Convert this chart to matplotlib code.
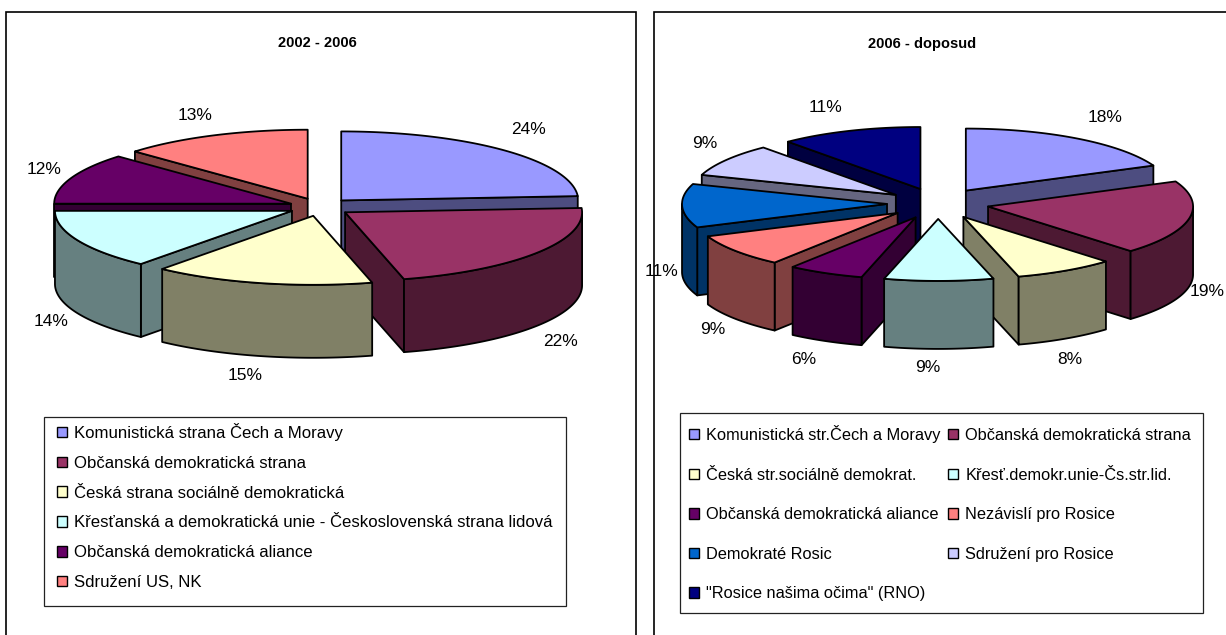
import numpy as np
import matplotlib
matplotlib.use("Agg")
import matplotlib.pyplot as plt
from matplotlib.patches import Polygon, Patch, Rectangle

plt.rcParams["font.family"] = ["Liberation Sans", "DejaVu Sans"]

W, H = 1226, 635

# 2002 - 2006
left_title = "2002 - 2006"
left_parties = [
    "Komunistická strana Čech a Moravy",
    "Občanská demokratická strana",
    "Česká strana sociálně demokratická",
    "Křesťanská a demokratická unie - Československá strana lidová",
    "Občanská demokratická aliance",
    "Sdružení US, NK",
]
left_values = [24, 22, 15, 14, 12, 13]
left_colors = ["#9999FF", "#993366", "#FFFFCC", "#CCFFFF", "#660066", "#FF8080"]
left_walls = ["#4D4D80", "#4D1933", "#808066", "#668080", "#330033", "#804040"]
left_label_xy = [(528, 130), (560, 342), (245, 376), (51, 322), (44, 169), (195, 115)]

# 2006 - doposud
right_title = "2006 - doposud"
right_parties = [
    "Komunistická str.Čech a Moravy",
    "Občanská demokratická strana",
    "Česká str.sociálně demokrat.",
    "Křesť.demokr.unie-Čs.str.lid.",
    "Občanská demokratická aliance",
    "Nezávislí pro Rosice",
    "Demokraté Rosic",
    "Sdružení pro Rosice",
    '"Rosice našima očima" (RNO)',
]
right_values = [18.4, 19.4, 7.9, 8.6, 6.0, 8.6, 11.4, 8.6, 11.2]
right_colors = ["#9999FF", "#993366", "#FFFFCC", "#CCFFFF", "#660066", "#FF8080",
                "#0066CC", "#CCCCFF", "#000080"]
right_walls = ["#4D4D80", "#4D1933", "#808066", "#668080", "#330033", "#804040",
               "#003366", "#666680", "#000040"]
right_label_xy = [(1105, 118), (1207, 291), (1070, 359), (928, 368), (804, 360),
                  (713, 330), (661, 272), (705, 144), (826, 107)]

fig = plt.figure(figsize=(W / 100, H / 100), dpi=100)
ax = fig.add_axes([0, 0, 1, 1])
ax.set_xlim(0, W)
ax.set_ylim(H, 0)
ax.axis("off")


def draw_pie(values, colors, walls, cx, cy, rx, ry, depth, explode):
    total = sum(values)
    edges = np.concatenate([[0], np.cumsum(values)]) / total * 2 * np.pi
    mids = (edges[:-1] + edges[1:]) / 2
    # back slices first so the front ones cover them
    for i in np.argsort(-np.cos(mids)):
        a0, a1 = edges[i], edges[i + 1]
        px = cx + explode * np.sin(mids[i])
        py = cy - explode * ry / rx * np.cos(mids[i])
        t = np.linspace(a0, a1, 80)
        ex = px + rx * np.sin(t)
        ey = py - ry * np.cos(t)

        # radial walls, only the ones facing the viewer
        for a, visible in ((a0, np.sin(a0) < 0), (a1, np.sin(a1) > 0)):
            if visible:
                qx, qy = px + rx * np.sin(a), py - ry * np.cos(a)
                wall = [(px, py), (qx, qy), (qx, qy + depth), (px, py + depth)]
                ax.add_patch(Polygon(wall, fc=walls[i], ec="black", lw=1.3, joinstyle="round"))

        # outer wall, front half of the ellipse only
        lo, hi = max(a0, np.pi / 2), min(a1, 3 * np.pi / 2)
        if hi > lo:
            s = np.linspace(lo, hi, 80)
            sx = px + rx * np.sin(s)
            sy = py - ry * np.cos(s)
            outer = np.column_stack([np.r_[sx, sx[::-1]], np.r_[sy, sy[::-1] + depth]])
            ax.add_patch(Polygon(outer, fc=walls[i], ec="black", lw=1.3, joinstyle="round"))

        top = np.column_stack([np.r_[px, ex], np.r_[py, ey]])
        ax.add_patch(Polygon(top, fc=colors[i], ec="black", lw=1.3, joinstyle="round"))


def draw_labels(values, label_xy):
    for v, (x, y) in zip(values, label_xy):
        ax.text(x, y, f"{v:.0f}%", ha="center", va="center", fontsize=12.5, color="black")


# chart frames, they run off the picture at the bottom and right
ax.add_patch(Rectangle((6, 12), 630, 640, fc="white", ec="black", lw=1.2))
ax.add_patch(Rectangle((654, 12), 600, 640, fc="white", ec="black", lw=1.2))

ax.text(317, 43, left_title, ha="center", va="center", fontsize=10.5, fontweight="bold")
ax.text(922, 44, right_title, ha="center", va="center", fontsize=10.5, fontweight="bold")

draw_pie(left_values, left_colors, left_walls, 320, 207, 237, 69, 73, 31)
draw_pie(right_values, right_colors, right_walls, 938, 203.5, 205, 62, 68, 51)
draw_labels(left_values, left_label_xy)
draw_labels(right_values, right_label_xy)

# legend boxes
ax.add_patch(Rectangle((44, 417), 522, 189, fc="white", ec="#222222", lw=0.9))
ax.add_patch(Rectangle((680, 413), 523, 200, fc="white", ec="#222222", lw=0.9))

left_handles = [Patch(fc=c, ec="black", lw=1.0) for c in left_colors]
leg1 = ax.legend(left_handles, left_parties, loc="upper left",
                 bbox_to_anchor=(57, 423), bbox_transform=ax.transData,
                 fontsize=12.1, frameon=False, borderaxespad=0, borderpad=0, labelspacing=0.88,
                 handlelength=0.6, handleheight=0.6, handletextpad=0.42)
ax.add_artist(leg1)

# the reference reads row by row, matplotlib fills column by column
order = [0, 2, 4, 6, 8, 1, 3, 5, 7]
right_handles = [Patch(fc=right_colors[i], ec="black", lw=1.0) for i in order]
leg2 = ax.legend(right_handles, [right_parties[i] for i in order], loc="upper left", ncols=2,
                 bbox_to_anchor=(689, 425), bbox_transform=ax.transData,
                 fontsize=11.8, frameon=False, borderaxespad=0, borderpad=0, labelspacing=1.5,
                 columnspacing=0.5, handlelength=0.6, handleheight=0.6, handletextpad=0.42)

fig.savefig("out.png", dpi=100, facecolor="white")
